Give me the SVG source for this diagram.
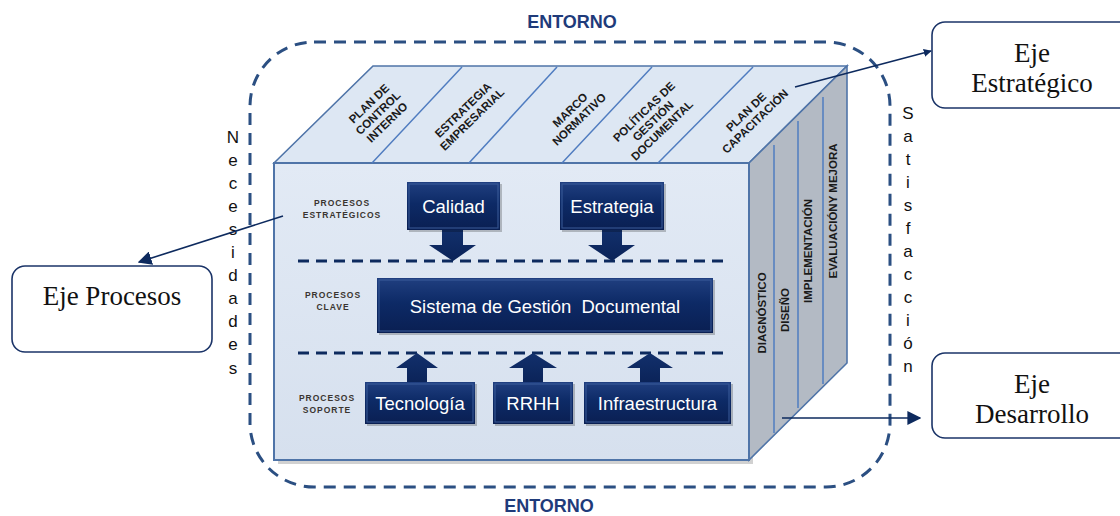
<svg xmlns="http://www.w3.org/2000/svg" width="1120" height="516" viewBox="0 0 1120 516">
<defs>
<style>
.box-t{font-family:"Liberation Sans",Arial,sans-serif;font-size:18.5px;fill:#ffffff;text-anchor:middle;}
.top-t{font-family:"Liberation Sans",Arial,sans-serif;font-size:11.5px;font-weight:bold;fill:#1a1a1a;text-anchor:middle;}
.side-t{font-family:"Liberation Sans",Arial,sans-serif;font-size:11.5px;font-weight:bold;fill:#1a1a1a;text-anchor:middle;}
.proc-t{font-family:"Liberation Sans",Arial,sans-serif;font-size:8.5px;font-weight:bold;fill:#3a3530;text-anchor:middle;letter-spacing:1px;}
.vert-t{font-family:"Liberation Sans",Arial,sans-serif;font-size:17px;fill:#111111;text-anchor:middle;}
.callout{fill:#ffffff;stroke:#1b3468;stroke-width:1.6;}
.callout-t{font-family:"Liberation Serif","Times New Roman",serif;font-size:27px;fill:#111111;text-anchor:middle;}
.entorno{font-family:"Liberation Sans",Arial,sans-serif;font-size:18px;font-weight:bold;fill:#1f3b7a;text-anchor:middle;}
.dark{fill:url(#gBox);}
.bevel{fill:none;stroke:#3d5f9e;stroke-width:1.2;opacity:0.8;}
.shadow{fill:#000000;opacity:0.22;}
.arr{fill:url(#gArr);}
.dash{stroke:#0d2a5e;stroke-width:3;stroke-dasharray:11 7;fill:none;}
.div{stroke:#4f7cc0;stroke-width:1.5;fill:none;}
.conn{stroke:#0d2a5e;stroke-width:1.6;fill:none;}
</style>
<linearGradient id="gBox" x1="0" y1="0" x2="0" y2="1">
<stop offset="0" stop-color="#203f80"/>
<stop offset="0.45" stop-color="#0d2a66"/>
<stop offset="1" stop-color="#0a1f52"/>
</linearGradient>
<linearGradient id="gArr" x1="0" y1="0" x2="0" y2="1">
<stop offset="0" stop-color="#12306c"/>
<stop offset="1" stop-color="#0b2358"/>
</linearGradient>
<linearGradient id="gFront" x1="0" y1="0" x2="0" y2="1">
<stop offset="0" stop-color="#e2eaf5"/>
<stop offset="1" stop-color="#d6e0ee"/>
</linearGradient>
<marker id="ah" viewBox="0 0 10 10" refX="9" refY="5" markerWidth="8" markerHeight="8" markerUnits="userSpaceOnUse" orient="auto">
<path d="M0,0 L10,5 L0,10 z" fill="#0d2a5e"/>
</marker>
<marker id="ahL" viewBox="0 0 10 10" refX="9" refY="5" markerWidth="14" markerHeight="14" markerUnits="userSpaceOnUse" orient="auto">
<path d="M0,0 L10,5 L0,10 z" fill="#0d2a5e"/>
</marker>
</defs>

<rect x="0" y="0" width="1120" height="516" fill="#ffffff"/>

<!-- Environment -->
<g id="entorno">
<rect x="250" y="42" width="640" height="445" rx="64" ry="64" fill="none" stroke="#2b4f82" stroke-width="3" stroke-dasharray="12 8"/>
<text class="entorno" x="572" y="28">ENTORNO</text>
<text class="entorno" x="549" y="512">ENTORNO</text>
</g>

<g id="necesidades">
<text class="vert-t">
<tspan x="233" y="143">N</tspan><tspan x="233" y="166">e</tspan><tspan x="233" y="189">c</tspan><tspan x="233" y="212">e</tspan><tspan x="233" y="235">s</tspan><tspan x="233" y="258">i</tspan><tspan x="233" y="281">d</tspan><tspan x="233" y="304">a</tspan><tspan x="233" y="327">d</tspan><tspan x="233" y="350">e</tspan><tspan x="233" y="374">s</tspan>
</text>
</g>
<g id="satisfaccion">
<text class="vert-t">
<tspan x="908" y="119">S</tspan><tspan x="908" y="142">a</tspan><tspan x="908" y="165">t</tspan><tspan x="908" y="188">i</tspan><tspan x="908" y="211">s</tspan><tspan x="908" y="234">f</tspan><tspan x="908" y="257">a</tspan><tspan x="908" y="280">c</tspan><tspan x="908" y="303">c</tspan><tspan x="908" y="326">i</tspan><tspan x="908" y="349">ó</tspan><tspan x="908" y="372">n</tspan>
</text>
</g>

<!-- Cube -->
<g id="cube">
<rect x="278" y="167" width="475" height="297" fill="#000000" opacity="0.18"/>
<polygon points="274,163 373,66 847,66 749,163" fill="#dde7f3" stroke="#4f74a8" stroke-width="1.6"/>
<polygon points="749,163 847,66 847,363 749,460" fill="#b3bac4" stroke="#4f74a8" stroke-width="1.6"/>
<rect x="274" y="163" width="475" height="297" fill="url(#gFront)" stroke="#4f74a8" stroke-width="2"/>
<line class="div" x1="372" y1="163" x2="462" y2="67"/>
<line class="div" x1="469" y1="163" x2="557" y2="67"/>
<line class="div" x1="562" y1="163" x2="652" y2="67"/>
<line class="div" x1="658" y1="163" x2="753" y2="67"/>
<line class="div" x1="774" y1="145" x2="774" y2="433"/>
<line class="div" x1="798" y1="121" x2="798" y2="408"/>
<line class="div" x1="823" y1="97" x2="823" y2="384"/>
</g>

<g id="top-labels">
<g transform="translate(378,113) rotate(-44)"><text class="top-t"><tspan x="0" y="-9">PLAN DE</tspan><tspan x="0" y="4">CONTROL</tspan><tspan x="0" y="17">INTERNO</tspan></text></g>
<g transform="translate(468,115) rotate(-44)"><text class="top-t"><tspan x="0" y="-3">ESTRATEGIA</tspan><tspan x="0" y="10">EMPRESARIAL</tspan></text></g>
<g transform="translate(575,115) rotate(-44)"><text class="top-t"><tspan x="0" y="-3">MARCO</tspan><tspan x="0" y="10">NORMATIVO</tspan></text></g>
<g transform="translate(653,121) rotate(-44)"><text class="top-t"><tspan x="0" y="-9">POLÍTICAS DE</tspan><tspan x="0" y="4">GESTIÓN</tspan><tspan x="0" y="17">DOCUMENTAL</tspan></text></g>
<g transform="translate(751,117) rotate(-44)"><text class="top-t"><tspan x="0" y="-3">PLAN DE</tspan><tspan x="0" y="10">CAPACITACIÓN</tspan></text></g>
</g>

<g id="side-labels">
<text class="side-t" transform="translate(766,313) rotate(-90)">DIAGNÓSTICO</text>
<text class="side-t" transform="translate(789,310) rotate(-90)">DISEÑO</text>
<text class="side-t" transform="translate(812,251) rotate(-90)">IMPLEMENTACIÓN</text>
<text class="side-t" transform="translate(837,211) rotate(-90)">EVALUACIÓNY MEJORA</text>
</g>

<g id="process-labels">
<text class="proc-t"><tspan x="342" y="206">PROCESOS</tspan><tspan x="342" y="218">ESTRATÉGICOS</tspan></text>
<text class="proc-t"><tspan x="333" y="298">PROCESOS</tspan><tspan x="333" y="310">CLAVE</tspan></text>
<text class="proc-t"><tspan x="327" y="401">PROCESOS</tspan><tspan x="327" y="413">SOPORTE</tspan></text>
</g>

<g id="separators">
<line class="dash" x1="298" y1="261" x2="726" y2="261"/>
<line class="dash" x1="298" y1="353" x2="726" y2="353"/>
</g>

<g id="block-arrows">
<polygon class="arr" points="442,229 463,229 463,245 476,245 453,261 429,245 442,245"/>
<polygon class="arr" points="602,229 622,229 622,245 635,245 612,261 588,245 602,245"/>
<polygon class="arr" points="407,383 427,383 427,368 438,368 417,353 396,368 407,368"/>
<polygon class="arr" points="523,383 543,383 543,368 557,368 533,353 509,368 523,368"/>
<polygon class="arr" points="640,383 660,383 660,368 673,368 650,353 627,368 640,368"/>
</g>

<g id="calidad">
<rect class="shadow" x="409" y="184" width="93" height="48"/>
<rect class="dark" x="407" y="182" width="93" height="48"/>
<rect class="bevel" x="409" y="184" width="89" height="44"/>
<text class="box-t" x="453.5" y="213">Calidad</text>
</g>
<g id="estrategia">
<rect class="shadow" x="562" y="184" width="104" height="48"/>
<rect class="dark" x="560" y="182" width="104" height="48"/>
<rect class="bevel" x="562" y="184" width="100" height="44"/>
<text class="box-t" x="612" y="213">Estrategia</text>
</g>
<g id="sgd">
<rect class="shadow" x="379" y="280" width="336" height="55"/>
<rect class="dark" x="377" y="278" width="336" height="55"/>
<rect class="bevel" x="379" y="280" width="332" height="51"/>
<text class="box-t" x="545" y="313" xml:space="preserve">Sistema de Gestión  Documental</text>
</g>
<g id="tecnologia">
<rect class="shadow" x="367" y="384" width="110" height="42"/>
<rect class="dark" x="365" y="382" width="110" height="42"/>
<rect class="bevel" x="367" y="384" width="106" height="38"/>
<text class="box-t" x="420" y="410">Tecnología</text>
</g>
<g id="rrhh">
<rect class="shadow" x="495" y="384" width="80" height="42"/>
<rect class="dark" x="493" y="382" width="80" height="42"/>
<rect class="bevel" x="495" y="384" width="76" height="38"/>
<text class="box-t" x="533" y="410">RRHH</text>
</g>
<g id="infraestructura">
<rect class="shadow" x="586" y="384" width="147" height="42"/>
<rect class="dark" x="584" y="382" width="147" height="42"/>
<rect class="bevel" x="586" y="384" width="143" height="38"/>
<text class="box-t" x="657.5" y="410">Infraestructura</text>
</g>

<g id="eje-procesos">
<rect class="callout" x="12" y="266" width="200" height="86" rx="13" ry="13"/>
<text class="callout-t" x="112" y="305">Eje Procesos</text>
</g>
<g id="eje-estrategico">
<rect class="callout" x="932" y="22" width="200" height="86" rx="13" ry="13"/>
<text class="callout-t"><tspan x="1032" y="62">Eje</tspan><tspan x="1032" y="92">Estratégico</tspan></text>
</g>
<g id="eje-desarrollo">
<rect class="callout" x="932" y="353" width="200" height="85" rx="13" ry="13"/>
<text class="callout-t"><tspan x="1032" y="393">Eje</tspan><tspan x="1032" y="423">Desarrollo</tspan></text>
</g>

<g id="connectors">
<line class="conn" x1="795" y1="87" x2="931" y2="51" marker-end="url(#ah)"/>
<line class="conn" x1="283" y1="216" x2="139" y2="262" marker-end="url(#ahL)"/>
<line class="conn" x1="782" y1="418" x2="920" y2="418" marker-end="url(#ahL)"/>
</g>
</svg>
